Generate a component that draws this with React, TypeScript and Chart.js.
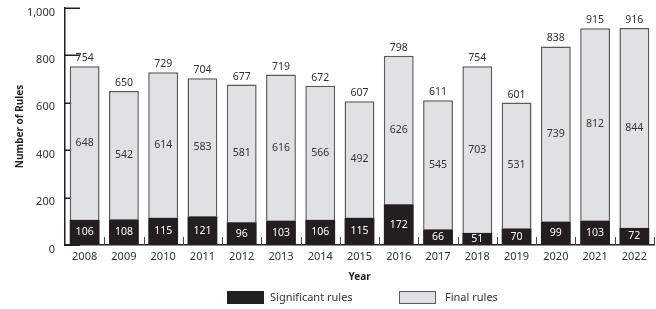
import React, { useEffect, useRef } from 'react';
import { Chart, registerables } from 'chart.js';

Chart.register(...registerables);

const years = ['2008', '2009', '2010', '2011', '2012', '2013', '2014', '2015', '2016', '2017', '2018', '2019', '2020', '2021', '2022'];
const significantRules = [106, 108, 115, 121, 96, 103, 106, 115, 172, 66, 51, 70, 99, 103, 72];
const finalRules = [648, 542, 614, 583, 581, 616, 566, 492, 626, 545, 703, 531, 739, 812, 844];
const totalRules = [754, 650, 729, 704, 677, 719, 672, 607, 798, 611, 754, 601, 838, 915, 916];
const yMax = 1000;
const yStep = 200;

const FONT = '"Noto Sans", sans-serif';
const TEXT = '#333333';
const DARK = '#231f20';
const LIGHT = '#e1e1e3';
const EDGE = '#5a5a5c';

const decorPlugin = {
  id: 'decor',
  beforeDatasetsDraw(chart: any) {
    const { ctx, chartArea, scales } = chart;
    const x = scales.x;
    const y = scales.y;
    ctx.save();
    ctx.strokeStyle = DARK;
    ctx.lineWidth = 1.5;
    y.ticks.forEach((t: any) => {
      const py = Math.round(y.getPixelForValue(t.value)) + 0.25;
      ctx.beginPath();
      ctx.moveTo(chartArea.left, py);
      ctx.lineTo(chartArea.left + 15, py);
      ctx.stroke();
    });
    ctx.lineWidth = 1;
    ctx.strokeStyle = '#444';
    const step = x.getPixelForValue(1) - x.getPixelForValue(0);
    for (let i = 0; i < years.length; i++) {
      const px = Math.round(x.getPixelForValue(i) + step / 2) + 0.5;
      ctx.beginPath();
      ctx.moveTo(px, chartArea.bottom);
      ctx.lineTo(px, chartArea.bottom - 8);
      ctx.stroke();
    }
    ctx.restore();
  },
  afterDatasetsDraw(chart: any) {
    const { ctx, scales } = chart;
    const x = scales.x;
    const y = scales.y;
    ctx.save();
    ctx.font = `10.5px ${FONT}`;
    ctx.textAlign = 'center';
    ctx.textBaseline = 'middle';
    chart.data.datasets.forEach((ds: any, di: number) => {
      const meta = chart.getDatasetMeta(di);
      meta.data.forEach((el: any, i: number) => {
        ctx.fillStyle = di === 0 ? '#ffffff' : TEXT;
        ctx.fillText(String(ds.data[i]), el.x, (el.y + el.base) / 2);
      });
    });
    ctx.fillStyle = TEXT;
    totalRules.forEach((v, i) => {
      ctx.fillText(String(v), x.getPixelForValue(i), y.getPixelForValue(v) - 8);
    });
    ctx.restore();
  },
  afterDraw(chart: any) {
    const { ctx } = chart;
    const cx = chart.width / 2;
    const top = 291;
    ctx.save();
    ctx.fillStyle = DARK;
    ctx.fillRect(cx - 101, top, 37, 13);
    ctx.fillStyle = LIGHT;
    ctx.fillRect(cx + 71, top, 37, 13);
    ctx.strokeStyle = EDGE;
    ctx.lineWidth = 1;
    ctx.strokeRect(cx + 71.5, top + 0.5, 36, 12);
    ctx.fillStyle = TEXT;
    ctx.font = `11px ${FONT}`;
    ctx.textAlign = 'left';
    ctx.textBaseline = 'middle';
    ctx.fillText('Significant rules', cx - 58, top + 6.5);
    ctx.fillText('Final rules', cx + 117, top + 6.5);
    ctx.restore();
  },
};

export default function App() {
  const ref = useRef<HTMLCanvasElement>(null);
  useEffect(() => {
    if (!ref.current) return;
    const chart = new Chart(ref.current, {
      type: 'bar',
      data: {
        labels: years,
        datasets: [
          {
            label: 'Significant rules',
            data: significantRules,
            backgroundColor: DARK,
            borderWidth: 0,
            barPercentage: 0.76,
            categoryPercentage: 1,
          },
          {
            label: 'Final rules',
            data: finalRules,
            backgroundColor: LIGHT,
            borderColor: EDGE,
            borderWidth: 1.5,
            barPercentage: 0.76,
            categoryPercentage: 1,
          },
        ],
      },
      options: {
        responsive: false,
        animation: false,
        layout: { padding: { top: 8, right: 2, left: 0, bottom: 19 } },
        plugins: { legend: { display: false }, tooltip: { enabled: false } },
        scales: {
          x: {
            stacked: true,
            grid: { display: false, drawTicks: false },
            border: { display: true, color: DARK, width: 1.5 },
            ticks: { color: TEXT, font: { family: FONT, size: 11 }, padding: 5, maxRotation: 0 },
            title: { display: true, text: 'Year', color: DARK, font: { family: FONT, size: 10, weight: 'bold' }, padding: { top: 0, bottom: 7 } },
            afterFit: (s: any) => { s.height = 45; s.paddingLeft = 0; s.paddingRight = 0; },
          },
          y: {
            stacked: true,
            min: 0,
            max: yMax,
            grid: { display: false, drawTicks: false },
            border: { display: true, color: DARK, width: 1.5 },
            ticks: {
              stepSize: yStep,
              color: TEXT,
              font: { family: FONT, size: 11 },
              padding: 10,
              labelOffset: 4.5,
              callback: (v: any) => Number(v).toLocaleString('en-US'),
            },
            title: { display: true, text: 'Number of Rules', color: DARK, font: { family: FONT, size: 10, weight: 'bold' }, padding: { top: 14, bottom: 0 } },
            afterFit: (s: any) => { s.width = 65; s.paddingTop = 0; s.paddingBottom = 0; },
          },
        },
      },
      plugins: [decorPlugin],
    });
    return () => chart.destroy();
  }, []);
  return (
    <div style={{ position: 'absolute', left: 0, top: 0, width: 656, height: 309, background: '#ffffff' }}>
      <canvas ref={ref} width={656} height={309} />
    </div>
  );
}
